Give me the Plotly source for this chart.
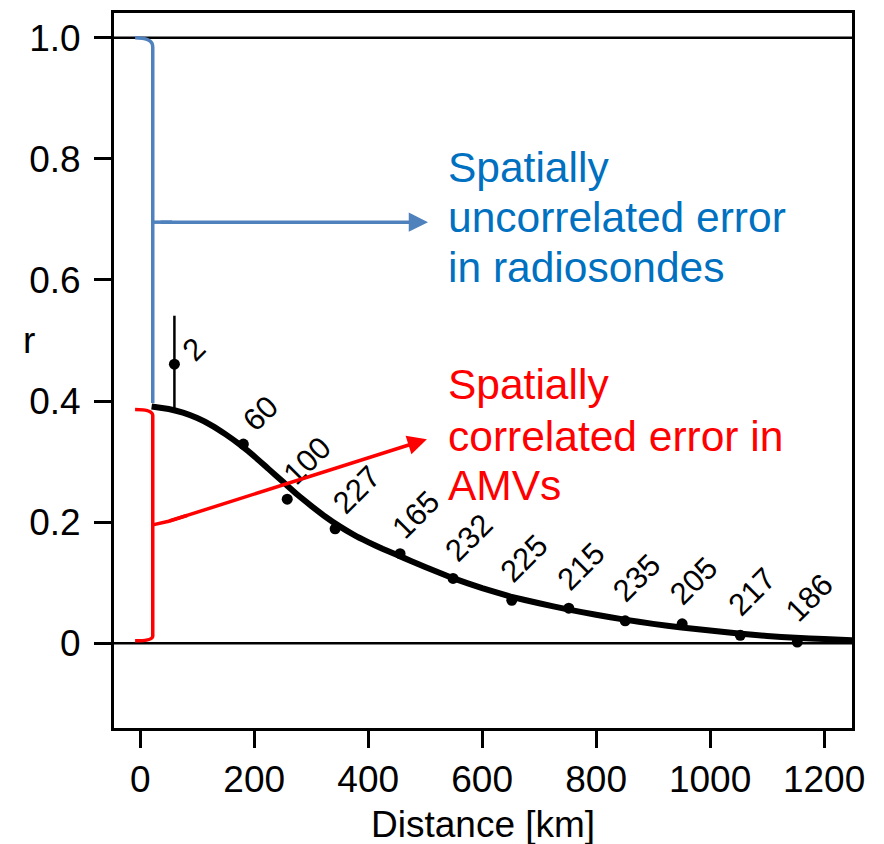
import plotly.graph_objects as go

# ---------------- data ----------------
curve_d = [20, 50, 75, 100, 125, 150, 175, 200, 225, 250, 275, 300, 325, 350, 375, 400,
           425, 450, 475, 500, 550, 600, 650, 700, 750, 800, 850, 900, 950, 1000, 1050,
           1100, 1150, 1200, 1250]
curve_r = [0.391, 0.387, 0.381, 0.372, 0.360, 0.345, 0.328, 0.309, 0.288, 0.267, 0.246,
           0.227, 0.209, 0.193, 0.179, 0.167, 0.156, 0.146, 0.136, 0.126, 0.107, 0.091,
           0.077, 0.066, 0.056, 0.047, 0.039, 0.032, 0.026, 0.021, 0.016, 0.012, 0.009,
           0.007, 0.005]

point_d = [60, 181, 258, 342, 456, 549, 652, 752, 851, 951, 1053, 1153]
point_r = [0.461, 0.329, 0.238, 0.189, 0.148, 0.107, 0.071, 0.058, 0.037, 0.032, 0.013, 0.002]
point_n = ["2", "60", "100", "227", "165", "232", "225", "215", "235", "205", "217", "186"]
point_err = [0.08, 0, 0, 0, 0, 0, 0, 0, 0, 0, 0, 0]

x_ticks = [0, 200, 400, 600, 800, 1000, 1200]
y_ticks = [0, 0.2, 0.4, 0.6, 0.8, 1.0]
y_ticktext = ["0", "0.2", "0.4", "0.6", "0.8", "1.0"]

blue_text = ["Spatially", "uncorrelated error", "in radiosondes"]
red_text = ["Spatially", "correlated error in", "AMVs"]

# ---------------- style ----------------
FONT = "Liberation Sans, Arial, Helvetica, sans-serif"
BLUE_LINE = "#4F81BD"
BLUE_TEXT = "#0070C0"
RED = "#FF0000"
XR = [-46, 1249]
YR = [-0.140, 1.041]

# label offsets in pixels (style)
label_dx = [19, 17, 20, 22, 16, 16, 12, 12, 12, 12, 12, 12]
label_dy = [15, 31, 39, 39, 39, 41, 42, 42, 43, 43, 44, 45]

fig = go.Figure()

# fitted curve
fig.add_trace(go.Scatter(x=curve_d, y=curve_r, mode="lines",
                         line=dict(color="black", width=6, shape="spline", smoothing=0.3),
                         hoverinfo="skip", showlegend=False))

# data points with error bar
fig.add_trace(go.Scatter(x=point_d, y=point_r, mode="markers",
                         marker=dict(color="black", size=11),
                         error_y=dict(type="data", array=point_err, visible=True,
                                      color="black", thickness=2.5, width=0),
                         showlegend=False))

annotations = []
for d, r, n, dx, dy in zip(point_d, point_r, point_n, label_dx, label_dy):
    annotations.append(dict(x=d, y=r, xref="x", yref="y", text=n, showarrow=False,
                            textangle=-45, xshift=dx, yshift=dy,
                            font=dict(family=FONT, size=31, color="black")))

# reference lines at r = 0 and r = 1
shapes = [
    dict(type="line", xref="paper", yref="y", x0=0, x1=1, y0=0, y1=0,
         line=dict(color="black", width=2.5)),
    dict(type="line", xref="paper", yref="y", x0=0, x1=1, y0=1, y1=1,
         line=dict(color="black", width=2.5)),
]

# brackets
r0 = curve_r[0]
bx = 22      # bracket x (km)
hx = -9      # hook end x (km)
blue_mid = (1.0 + r0) / 2
red_mid = r0 / 2
shapes.append(dict(
    type="path", xref="x", yref="y",
    path=(f"M {hx},1.0 Q {bx},1.0 {bx},0.985 L {bx},{r0 + 0.006}"),
    line=dict(color=BLUE_LINE, width=3.5)))
shapes.append(dict(
    type="path", xref="x", yref="y",
    path=(f"M {hx},{r0 - 0.005} Q {bx},{r0 - 0.005} {bx},{r0 - 0.015} L {bx},0.012 "
          f"Q {bx},0.004 {hx},0.004"),
    line=dict(color=RED, width=3.5)))
# short nubs at bracket midpoints
shapes.append(dict(type="line", xref="x", yref="y", x0=bx, y0=blue_mid,
                   x1=bx + 34, y1=blue_mid, line=dict(color=BLUE_LINE, width=3.5)))
shapes.append(dict(type="path", xref="x", yref="y",
                   path=f"M {bx},{red_mid} L {bx + 28},{red_mid + 0.006} L {bx + 60},{red_mid + 0.0155}",
                   line=dict(color=RED, width=3.5)))

# arrows
arrow_common = dict(xref="x", yref="y", axref="x", ayref="y", text="", showarrow=True,
                    arrowhead=2, arrowsize=1.1, arrowwidth=3.5, standoff=0,
                    width=1, height=1, borderpad=0, font=dict(size=1))
annotations.append(dict(x=505, y=blue_mid, ax=bx + 12, ay=blue_mid,
                        arrowcolor=BLUE_LINE, **arrow_common))
annotations.append(dict(x=503, y=0.337, ax=bx + 28, ay=red_mid + 0.006,
                        arrowcolor=RED, **arrow_common))

# text blocks
for txt, yc in zip(blue_text, [0.786, 0.704, 0.621]):
    annotations.append(dict(x=537, y=yc, xref="x", yref="y", text=txt, showarrow=False,
                            xanchor="left", yanchor="middle",
                            font=dict(family=FONT, size=42.5, color=BLUE_TEXT)))
for txt, yc in zip(red_text, [0.427, 0.342, 0.260]):
    annotations.append(dict(x=537, y=yc, xref="x", yref="y", text=txt, showarrow=False,
                            xanchor="left", yanchor="middle",
                            font=dict(family=FONT, size=42.5, color=RED)))

# axis titles
annotations.append(dict(x=-0.115, y=0.5, xref="paper", yref="y", text="r", showarrow=False,
                        xanchor="center", yanchor="middle",
                        font=dict(family=FONT, size=37, color="black")))
annotations.append(dict(x=0.5, y=-0.135, xref="paper", yref="paper", text="Distance [km]",
                        showarrow=False, xanchor="center", yanchor="middle",
                        font=dict(family=FONT, size=37, color="black")))

fig.update_layout(
    width=884, height=844,
    margin=dict(l=114, r=32, t=10, b=116),
    paper_bgcolor="white", plot_bgcolor="white",
    showlegend=False,
    shapes=shapes, annotations=annotations,
    font=dict(family=FONT, size=37, color="black"),
)
fig.update_xaxes(range=XR, tickvals=x_ticks, ticks="outside", ticklen=17, tickwidth=2.5,
                 tickcolor="black", showline=True, linecolor="black", linewidth=3,
                 mirror=True, showgrid=False, zeroline=False,
                 tickfont=dict(family=FONT, size=37, color="black"))
fig.update_yaxes(range=YR, tickvals=y_ticks, ticktext=y_ticktext, ticks="outside",
                 ticklen=17, tickwidth=2.5, tickcolor="black", showline=True,
                 linecolor="black", linewidth=3, mirror=True, showgrid=False,
                 zeroline=False, ticklabelstandoff=6,
                 tickfont=dict(family=FONT, size=37, color="black"))

fig.write_html("out.html")
